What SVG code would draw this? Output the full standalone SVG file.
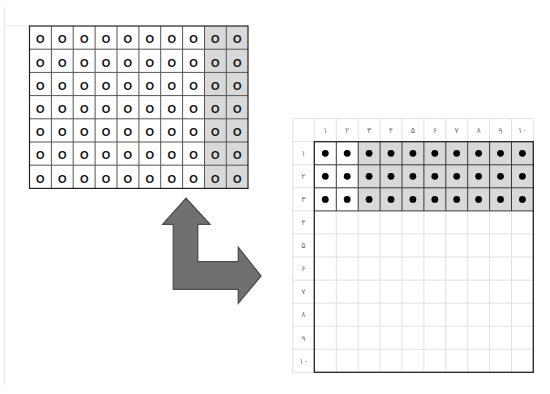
<svg xmlns="http://www.w3.org/2000/svg" width="550" height="394" viewBox="0 0 550 394">
<style>
.o{font-family:"Liberation Sans",Arial,sans-serif;font-size:11px;font-weight:bold;fill:#111;text-anchor:middle}
.d{font-family:"DejaVu Sans","Noto Sans",sans-serif;font-size:8px;fill:#777;text-anchor:middle}
.lg{stroke:#e0e0e0;stroke-width:1;fill:none}
.dk{stroke:#3a3a3a;stroke-width:1;fill:none}
.dot{fill:#000}
</style>
<rect width="550" height="394" fill="#fff"/>
<g id="page" stroke="#e6e6e6" stroke-width="1">
<line x1="4.5" y1="7" x2="4.5" y2="385"/>
<line x1="4" y1="26" x2="29" y2="26"/>
</g>
<g id="source-grid">
<rect x="204.2" y="26" width="43.8" height="162.4" fill="#d9d9d9"/>
<g stroke="#555" stroke-width="1">
<line x1="51.4" y1="26" x2="51.4" y2="188.4"/><line x1="73.2" y1="26" x2="73.2" y2="188.4"/><line x1="95.1" y1="26" x2="95.1" y2="188.4"/><line x1="117" y1="26" x2="117" y2="188.4"/><line x1="138.9" y1="26" x2="138.9" y2="188.4"/><line x1="160.7" y1="26" x2="160.7" y2="188.4"/><line x1="182.6" y1="26" x2="182.6" y2="188.4"/><line x1="204.5" y1="26" x2="204.5" y2="188.4"/><line x1="226.3" y1="26" x2="226.3" y2="188.4"/>
<line x1="29.5" y1="49.2" x2="248" y2="49.2"/><line x1="29.5" y1="72.4" x2="248" y2="72.4"/><line x1="29.5" y1="95.6" x2="248" y2="95.6"/><line x1="29.5" y1="118.8" x2="248" y2="118.8"/><line x1="29.5" y1="142" x2="248" y2="142"/><line x1="29.5" y1="165.2" x2="248" y2="165.2"/>
</g>
<rect x="29.5" y="26" width="218.5" height="162.4" fill="none" stroke="#222" stroke-width="1.2"/>
<g class="o">
<text x="40.4" y="43.3">O</text><text x="62.3" y="43.3">O</text><text x="84.2" y="43.3">O</text><text x="106" y="43.3">O</text><text x="127.9" y="43.3">O</text><text x="149.8" y="43.3">O</text><text x="171.7" y="43.3">O</text><text x="193.5" y="43.3">O</text><text x="215.4" y="43.3">O</text><text x="237.2" y="43.3">O</text>
<text x="40.4" y="66.5">O</text><text x="62.3" y="66.5">O</text><text x="84.2" y="66.5">O</text><text x="106" y="66.5">O</text><text x="127.9" y="66.5">O</text><text x="149.8" y="66.5">O</text><text x="171.7" y="66.5">O</text><text x="193.5" y="66.5">O</text><text x="215.4" y="66.5">O</text><text x="237.2" y="66.5">O</text>
<text x="40.4" y="89.7">O</text><text x="62.3" y="89.7">O</text><text x="84.2" y="89.7">O</text><text x="106" y="89.7">O</text><text x="127.9" y="89.7">O</text><text x="149.8" y="89.7">O</text><text x="171.7" y="89.7">O</text><text x="193.5" y="89.7">O</text><text x="215.4" y="89.7">O</text><text x="237.2" y="89.7">O</text>
<text x="40.4" y="112.9">O</text><text x="62.3" y="112.9">O</text><text x="84.2" y="112.9">O</text><text x="106" y="112.9">O</text><text x="127.9" y="112.9">O</text><text x="149.8" y="112.9">O</text><text x="171.7" y="112.9">O</text><text x="193.5" y="112.9">O</text><text x="215.4" y="112.9">O</text><text x="237.2" y="112.9">O</text>
<text x="40.4" y="136.1">O</text><text x="62.3" y="136.1">O</text><text x="84.2" y="136.1">O</text><text x="106" y="136.1">O</text><text x="127.9" y="136.1">O</text><text x="149.8" y="136.1">O</text><text x="171.7" y="136.1">O</text><text x="193.5" y="136.1">O</text><text x="215.4" y="136.1">O</text><text x="237.2" y="136.1">O</text>
<text x="40.4" y="159.3">O</text><text x="62.3" y="159.3">O</text><text x="84.2" y="159.3">O</text><text x="106" y="159.3">O</text><text x="127.9" y="159.3">O</text><text x="149.8" y="159.3">O</text><text x="171.7" y="159.3">O</text><text x="193.5" y="159.3">O</text><text x="215.4" y="159.3">O</text><text x="237.2" y="159.3">O</text>
<text x="40.4" y="182.5">O</text><text x="62.3" y="182.5">O</text><text x="84.2" y="182.5">O</text><text x="106" y="182.5">O</text><text x="127.9" y="182.5">O</text><text x="149.8" y="182.5">O</text><text x="171.7" y="182.5">O</text><text x="193.5" y="182.5">O</text><text x="215.4" y="182.5">O</text><text x="237.2" y="182.5">O</text>
</g>
</g>
<g id="connectors">
<polygon points="186,198.3 210,224.3 197.7,224.3 197.7,261.7 238.3,261.7 238.3,247.3 261,276 238.3,303.3 238.3,289.3 173.3,289.3 173.3,224.3 162.7,224.3" fill="#707070" stroke="#4d4d4d" stroke-width="1.3" stroke-linejoin="miter"/>
</g>
<g id="target-grid">
<rect x="358.2" y="141.7" width="175.1" height="69.2" fill="#d9d9d9"/>
<g class="lg">
<line x1="292.7" y1="118.3" x2="533.3" y2="118.3"/>
<line x1="292.7" y1="141.7" x2="314.3" y2="141.7"/><line x1="292.7" y1="164.8" x2="314.3" y2="164.8"/><line x1="292.7" y1="187.8" x2="314.3" y2="187.8"/><line x1="292.7" y1="210.9" x2="314.3" y2="210.9"/>
<line x1="292.7" y1="233.9" x2="533.3" y2="233.9"/><line x1="292.7" y1="257" x2="533.3" y2="257"/><line x1="292.7" y1="280.1" x2="533.3" y2="280.1"/><line x1="292.7" y1="303.1" x2="533.3" y2="303.1"/><line x1="292.7" y1="326.2" x2="533.3" y2="326.2"/><line x1="292.7" y1="349.2" x2="533.3" y2="349.2"/><line x1="292.7" y1="372.3" x2="314.3" y2="372.3"/>
<line x1="292.7" y1="118.3" x2="292.7" y2="374"/>
<line x1="314.3" y1="118.3" x2="314.3" y2="141.7"/><line x1="336.3" y1="118.3" x2="336.3" y2="141.7"/><line x1="358.2" y1="118.3" x2="358.2" y2="141.7"/><line x1="380.1" y1="118.3" x2="380.1" y2="141.7"/><line x1="402" y1="118.3" x2="402" y2="141.7"/><line x1="423.9" y1="118.3" x2="423.9" y2="141.7"/><line x1="445.8" y1="118.3" x2="445.8" y2="141.7"/><line x1="467.7" y1="118.3" x2="467.7" y2="141.7"/><line x1="489.6" y1="118.3" x2="489.6" y2="141.7"/><line x1="511.5" y1="118.3" x2="511.5" y2="141.7"/><line x1="533.3" y1="118.3" x2="533.3" y2="141.7"/>
<line x1="336.3" y1="210.9" x2="336.3" y2="372.3"/><line x1="358.2" y1="210.9" x2="358.2" y2="372.3"/><line x1="380.1" y1="210.9" x2="380.1" y2="372.3"/><line x1="402" y1="210.9" x2="402" y2="372.3"/><line x1="423.9" y1="210.9" x2="423.9" y2="372.3"/><line x1="445.8" y1="210.9" x2="445.8" y2="372.3"/><line x1="467.7" y1="210.9" x2="467.7" y2="372.3"/><line x1="489.6" y1="210.9" x2="489.6" y2="372.3"/><line x1="511.5" y1="210.9" x2="511.5" y2="372.3"/>
</g>
<g class="dk">
<line x1="336.3" y1="141.7" x2="336.3" y2="210.9"/><line x1="358.2" y1="141.7" x2="358.2" y2="210.9"/><line x1="380.1" y1="141.7" x2="380.1" y2="210.9"/><line x1="402" y1="141.7" x2="402" y2="210.9"/><line x1="423.9" y1="141.7" x2="423.9" y2="210.9"/><line x1="445.8" y1="141.7" x2="445.8" y2="210.9"/><line x1="467.7" y1="141.7" x2="467.7" y2="210.9"/><line x1="489.6" y1="141.7" x2="489.6" y2="210.9"/><line x1="511.5" y1="141.7" x2="511.5" y2="210.9"/>
<line x1="314.3" y1="164.8" x2="533.3" y2="164.8"/><line x1="314.3" y1="187.8" x2="533.3" y2="187.8"/><line x1="314.3" y1="210.9" x2="533.3" y2="210.9"/>
</g>
<rect x="314.3" y="141.7" width="219" height="230.6" fill="none" stroke="#222" stroke-width="1.3"/>
<g class="d">
<text x="325.3" y="133">۱</text><text x="347.2" y="133">۲</text><text x="369.1" y="133">۳</text><text x="391" y="133">۴</text><text x="412.9" y="133">۵</text><text x="434.8" y="133">۶</text><text x="456.7" y="133">۷</text><text x="478.6" y="133">۸</text><text x="500.5" y="133">۹</text><text x="522.4" y="133">۱۰</text>
<text x="303.5" y="156">۱</text><text x="303.5" y="179.1">۲</text><text x="303.5" y="202.1">۳</text><text x="303.5" y="225.2">۴</text><text x="303.5" y="248.2">۵</text><text x="303.5" y="271.3">۶</text><text x="303.5" y="294.4">۷</text><text x="303.5" y="317.4">۸</text><text x="303.5" y="340.5">۹</text><text x="303.5" y="363.5">۱۰</text>
</g>
<g class="dot">
<circle cx="325.3" cy="153.3" r="3.4"/><circle cx="347.2" cy="153.3" r="3.4"/><circle cx="369.1" cy="153.3" r="3.4"/><circle cx="391" cy="153.3" r="3.4"/><circle cx="412.9" cy="153.3" r="3.4"/><circle cx="434.8" cy="153.3" r="3.4"/><circle cx="456.7" cy="153.3" r="3.4"/><circle cx="478.6" cy="153.3" r="3.4"/><circle cx="500.5" cy="153.3" r="3.4"/><circle cx="522.4" cy="153.3" r="3.4"/>
<circle cx="325.3" cy="176.3" r="3.4"/><circle cx="347.2" cy="176.3" r="3.4"/><circle cx="369.1" cy="176.3" r="3.4"/><circle cx="391" cy="176.3" r="3.4"/><circle cx="412.9" cy="176.3" r="3.4"/><circle cx="434.8" cy="176.3" r="3.4"/><circle cx="456.7" cy="176.3" r="3.4"/><circle cx="478.6" cy="176.3" r="3.4"/><circle cx="500.5" cy="176.3" r="3.4"/><circle cx="522.4" cy="176.3" r="3.4"/>
<circle cx="325.3" cy="199.4" r="3.4"/><circle cx="347.2" cy="199.4" r="3.4"/><circle cx="369.1" cy="199.4" r="3.4"/><circle cx="391" cy="199.4" r="3.4"/><circle cx="412.9" cy="199.4" r="3.4"/><circle cx="434.8" cy="199.4" r="3.4"/><circle cx="456.7" cy="199.4" r="3.4"/><circle cx="478.6" cy="199.4" r="3.4"/><circle cx="500.5" cy="199.4" r="3.4"/><circle cx="522.4" cy="199.4" r="3.4"/>
</g>
</g>
</svg>
